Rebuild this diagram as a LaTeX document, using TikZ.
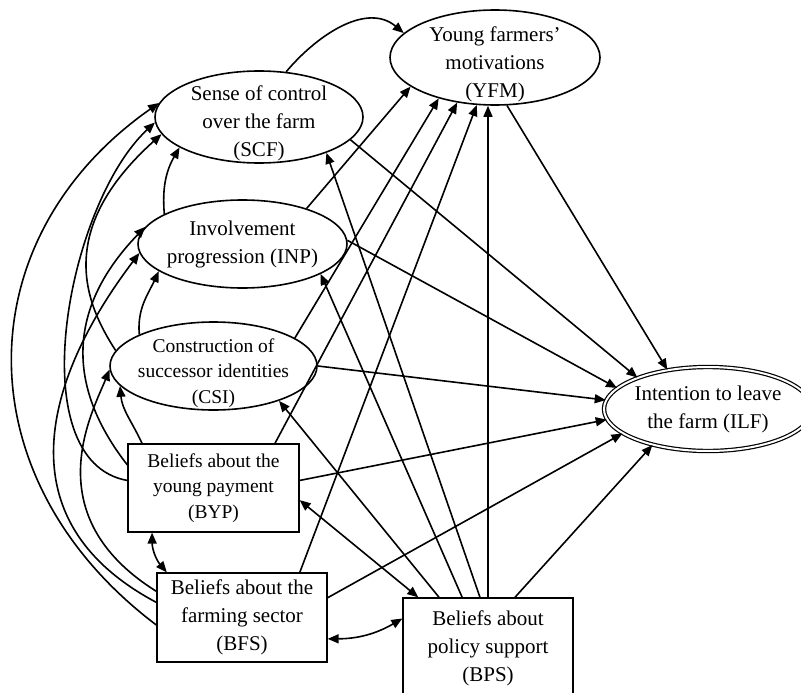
\documentclass[tikz,border=0pt]{standalone}
\usepackage{fontspec}
\setmainfont{Liberation Serif}
\usetikzlibrary{shapes.geometric,arrows.meta}
\def\bigtext{\fontsize{21}{28}\selectfont}
\def\smalltext{\fontsize{19.5}{25.5}\selectfont}
\def\raiseline{\rule{0pt}{28pt}}

\begin{document}
\begin{tikzpicture}[x=1pt,y=1pt,line width=1.6pt,
  construct/.style={ellipse,draw,align=center,font=\bigtext,inner xsep=-4pt,inner ysep=-20pt},
  belief/.style={rectangle,draw,line width=1.3pt,align=center,font=\bigtext,inner sep=0pt,minimum width=170pt,minimum height=89pt},
  link/.style={-{Triangle[length=11pt,width=9pt]}},
  twoway/.style={{Triangle[length=11pt,width=9pt]}-{Triangle[length=11pt,width=9pt]}}]
  \useasboundingbox (0,0) rectangle (801,-693);
  \clip (0,0) rectangle (801,-693);

  \node[construct,minimum width=208pt,minimum height=92pt] (scf) at (259,-117) {\raiseline Sense of control\\over the farm\\(SCF)};
  \node[construct,minimum width=210pt,minimum height=95pt] (yfm) at (495,-57.5) {\raiseline Young farmers'\\motivations\\(YFM)};
  \node[construct,minimum width=209pt,minimum height=88pt] (inp) at (242.5,-244) {Involvement\\progression (INP)};
  \node[construct,font=\smalltext,minimum width=207pt,minimum height=88pt] (csi) at (213.5,-366) {\raiseline Construction of\\successor identities\\(CSI)};
  \node[construct,double,double distance=2pt,line width=1.2pt,minimum width=208pt,minimum height=84pt] (ilf) at (708,-409) {Intention to leave\\the farm (ILF)};
  \node[belief,font=\smalltext,minimum width=171pt,minimum height=88pt] (byp) at (213.5,-488) {Beliefs about the\\young payment\\(BYP)};
  \node[belief] (bfs) at (242,-617.5) {Beliefs about the\\farming sector\\(BFS)};
  \node[belief,minimum height=100pt] (bps) at (488,-648) {Beliefs about\\policy support\\(BPS)};

  % into YFM
  \draw[link] (scf.59) to[out=50,in=140] (yfm.165);
  \draw[link] (inp.29) -- (yfm.199);
  \draw[link] (csi.19) -- (yfm.216);
  \draw[link] (byp.36) -- (yfm.230);
  \draw[link] (bfs.38) -- (yfm.249);
  \draw[link] (bps.north) -- (bps.north |- yfm.south);

  % into ILF
  \draw[link] (yfm.284) -- (ilf.136);
  \draw[link] (scf.346) -- (ilf.156);
  \draw[link] (inp.2) -- (ilf.167);
  \draw[link] (csi.0) -- (ilf.175);
  \draw[link] (byp.5) -- (ilf.186);
  \draw[link] (bfs.13) -- (ilf.196);
  \draw[link] (bps.62) -- (ilf.213);

  % from BPS
  \draw[link] (bps.99) -- (scf.332);
  \draw[link] (bps.117) -- (inp.339);
  \draw[link] (bps.134) -- (csi.332);
  \draw[twoway] (byp.352) -- (bps.144);
  \draw[twoway] (byp.216) to[bend right=20] (bfs.149);
  \draw[twoway] (bfs.346) to[bend right=15] (bps.161);

  % short curves
  \draw[link] (inp.159) to[out=95,in=240] (scf.201);
  \draw[link] (csi.157) to[out=95,in=245] (inp.198);
  \draw[link] (byp.148) to[out=115,in=275] (csi.192);

  % long curves round the left
  \draw[link] (bfs.185) .. controls +(143:243) and +(215:236) .. (scf.172);
  \draw[link] (byp.175) .. controls +(170:110) and +(223:120) .. (scf.183);
  \draw[link] (csi.171) .. controls +(123:56) and +(222:144) .. (scf.190);
  \draw[link] (byp.165) .. controls +(128:94) and +(226:118) .. (inp.170);
  \draw[link] (bfs.170) .. controls +(152:221) and +(233:70) .. (inp.185);
  \draw[link] (bfs.163) .. controls +(148:143) and +(248:46) .. (csi.182);
\end{tikzpicture}
\end{document}
